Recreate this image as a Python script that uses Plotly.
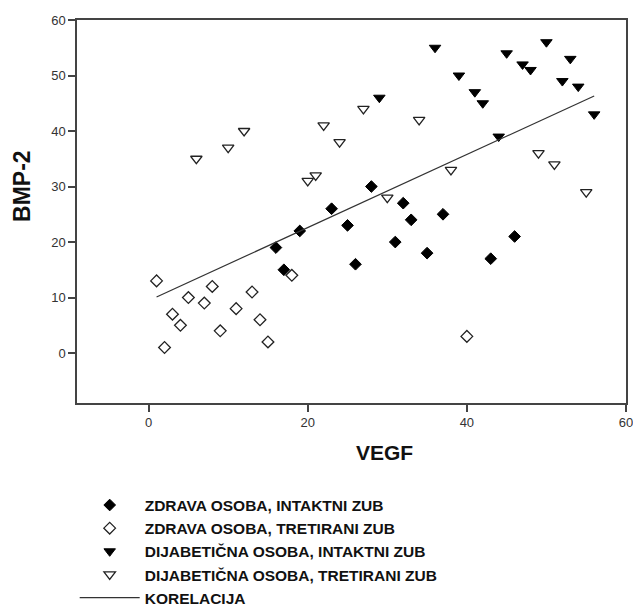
import plotly.graph_objects as go

# Zdrava osoba, intaktni zub (filled diamonds)
zi_x = [16, 17, 19, 23, 25, 26, 28, 31, 32, 33, 35, 37, 43, 46]
zi_y = [19, 15, 22, 26, 23, 16, 30, 20, 27, 24, 18, 25, 17, 21]

# Zdrava osoba, tretirani zub (open diamonds)
zt_x = [1, 2, 3, 4, 5, 7, 8, 9, 11, 13, 14, 15, 18, 40]
zt_y = [13, 1, 7, 5, 10, 9, 12, 4, 8, 11, 6, 2, 14, 3]

# Dijabeticna osoba, intaktni zub (filled triangles down)
di_x = [29, 36, 39, 41, 42, 44, 45, 47, 48, 50, 52, 53, 54, 56]
di_y = [46, 55, 50, 47, 45, 39, 54, 52, 51, 56, 49, 53, 48, 43]

# Dijabeticna osoba, tretirani zub (open triangles down)
dt_x = [6, 10, 12, 20, 21, 22, 24, 27, 30, 34, 38, 49, 51, 55]
dt_y = [35, 37, 40, 31, 32, 41, 38, 44, 28, 42, 33, 36, 34, 29]

# Korelacija (regression line endpoints)
fit_x = [1, 56]
fit_y = [10.1, 46.3]

x_ticks = [0, 20, 40, 60]
y_ticks = [0, 10, 20, 30, 40, 50, 60]

labels = [
    "ZDRAVA OSOBA, INTAKTNI ZUB",
    "ZDRAVA OSOBA, TRETIRANI ZUB",
    "DIJABETIČNA OSOBA, INTAKTNI ZUB",
    "DIJABETIČNA OSOBA, TRETIRANI ZUB",
    "KORELACIJA",
]

fig = go.Figure()
fig.add_trace(go.Scatter(x=zi_x, y=zi_y, mode="markers", name=labels[0], legendgroup="a",
                         marker=dict(symbol="diamond", size=9, color="black",
                                     line=dict(color="black", width=1))))
fig.add_trace(go.Scatter(x=zt_x, y=zt_y, mode="markers", name=labels[1], legendgroup="b",
                         marker=dict(symbol="diamond-open", size=9, color="#222",
                                     line=dict(color="#222", width=1.3))))
fig.add_trace(go.Scatter(x=di_x, y=di_y, mode="markers", name=labels[2], legendgroup="c",
                         marker=dict(symbol="triangle-down", size=10, color="black",
                                     line=dict(color="black", width=1))))
fig.add_trace(go.Scatter(x=dt_x, y=dt_y, mode="markers", name=labels[3], legendgroup="d",
                         marker=dict(symbol="triangle-down-open", size=10, color="#222",
                                     line=dict(color="#222", width=1.3))))
fig.add_trace(go.Scatter(x=fit_x, y=fit_y, mode="lines", name=labels[4], legendgroup="e",
                         line=dict(color="#333", width=1.2)))

axis_common = dict(
    showgrid=False, zeroline=False, showline=True, mirror=True,
    linecolor="#444", linewidth=1.5, ticks="outside", ticklen=7,
    tickcolor="#444", tickwidth=1.5, ticklabeloverflow="allow",
    tickfont=dict(family="Liberation Sans, Arial", size=13, color="#333"),
)

fig.update_layout(
    width=633, height=606,
    margin=dict(l=77, r=7, t=20, b=203, autoexpand=False),
    paper_bgcolor="white", plot_bgcolor="white",
    xaxis=dict(range=[-9, 60], tickvals=x_ticks, **axis_common),
    yaxis=dict(range=[-9, 60], tickvals=y_ticks, **axis_common),
    legend=dict(
        xref="container", yref="container",
        x=0.118, y=0.194, xanchor="left", yanchor="top",
        font=dict(family="Liberation Sans, Arial", size=15.5, color="#111", weight="bold"),
        bgcolor="rgba(0,0,0,0)", borderwidth=0, tracegroupgap=0,
        itemwidth=60,
    ),
    annotations=[
        dict(text="<b>BMP-2</b>", xref="paper", yref="paper", x=-0.1, y=0.567,
             xanchor="center", yanchor="middle", textangle=-90, showarrow=False,
             font=dict(family="Liberation Sans, Arial", size=23, color="#111")),
        dict(text="<b>VEGF</b>", xref="paper", yref="paper", x=0.561, y=-0.128,
             xanchor="center", yanchor="middle", showarrow=False,
             font=dict(family="Liberation Sans, Arial", size=21, color="#111")),
    ],
)

fig.write_html("out.html")
